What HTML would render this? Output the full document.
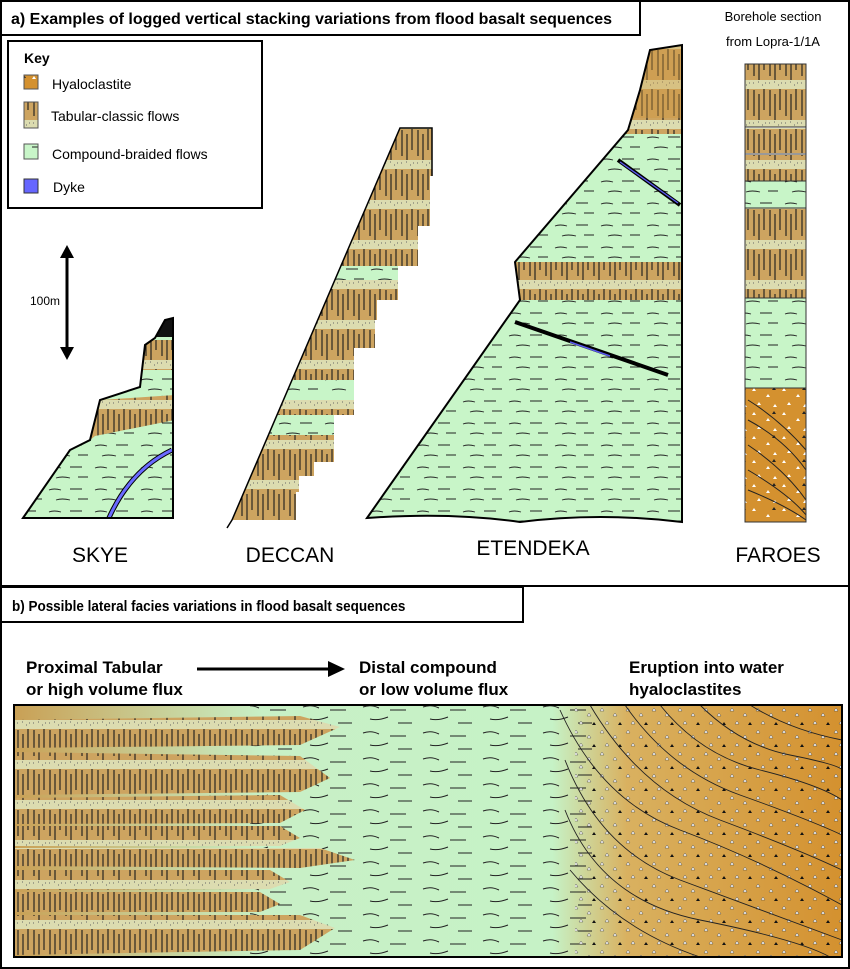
<!DOCTYPE html>
<html><head><meta charset="utf-8"><style>
html,body{margin:0;padding:0;background:#fff}
svg{display:block}
text{font-family:"Liberation Sans",Arial,sans-serif}
</style></head><body>
<svg width="850" height="969" viewBox="0 0 850 969" xmlns="http://www.w3.org/2000/svg">
<defs>
<pattern id="tab" width="16" height="40" patternUnits="userSpaceOnUse">
<rect width="16" height="40" fill="#cda460"/>
<rect width="16" height="9" fill="#dcdcb0"/>
<path d="M2 10V36M7 14V40M12 9V30" stroke="#1a1a1a" stroke-width="1.1"/>
<path d="M1 3h1M6 2h1M10 5h1M13 3h1" stroke="#666" stroke-width="1"/>
</pattern>
<pattern id="grn" width="46" height="22" patternUnits="userSpaceOnUse">
<rect width="46" height="22" fill="#c8f5c8"/>
<path d="M3 6q5-2 12 0M24 5h12M10 16q6-2 14 0M32 15h10" stroke="#222" stroke-width="0.9" fill="none"/>
</pattern>
<pattern id="hya" width="30" height="24" patternUnits="userSpaceOnUse">
<rect width="30" height="24" fill="#d4912f"/>
<path d="M4 4l2 3h-4zM18 10l2 3h-4zM9 18l2 3h-4zM25 20l2 3h-4z" fill="#fff"/>
<path d="M24 3l2 3h-4z" fill="#222"/>
</pattern>
<pattern id="dash" width="60" height="26" patternUnits="userSpaceOnUse">
<path d="M3 5q8-3 16 1M30 8h16M10 17q8 2 18-2M38 21h14" stroke="#222" stroke-width="1" fill="none"/>
</pattern>
<pattern id="tri" width="26" height="22" patternUnits="userSpaceOnUse">
<path d="M4 4l2 3h-4zM17 9l2 3h-4zM9 17l2 3h-4z" fill="#fff" stroke="#333" stroke-width="0.4"/>
<path d="M22 18l2 3h-4z" fill="#111"/>
</pattern>
<linearGradient id="bg" x1="0" x2="1" y1="0" y2="0">
<stop offset="0" stop-color="#c9a055"/>
<stop offset="0.3" stop-color="#c8f0c6"/>
<stop offset="0.65" stop-color="#c6f2c6"/>
<stop offset="0.74" stop-color="#d9b160"/>
<stop offset="1" stop-color="#d4912f"/>
</linearGradient>
<clipPath id="cs"><path d="M23 518L70 450L90 440L100 400L140 387L145 345L155 338L165 320L173 318V518Z"/></clipPath>
<clipPath id="cd"><path d="M232 520L400 128H432V520Z"/></clipPath>
<clipPath id="ce"><path d="M367 518L520 300L515 262L628 130L640 90L650 50L682 45V522Q600 512 520 522Q450 512 367 518Z"/></clipPath>
</defs>
<rect x="1" y="1" width="848" height="967" fill="none" stroke="#000" stroke-width="2"/>
<line x1="0" y1="586" x2="850" y2="586" stroke="#000" stroke-width="2"/>
<rect x="1" y="1" width="639" height="34" fill="#fff" stroke="#000" stroke-width="2"/>
<text x="11" y="24" font-size="16" font-weight="bold">a) Examples of logged vertical stacking variations from flood basalt sequences</text>
<rect x="8" y="41" width="254" height="167" fill="#fff" stroke="#000" stroke-width="2"/>
<text x="24" y="63" font-size="14" font-weight="bold">Key</text>
<rect x="24" y="75" width="14" height="14" fill="url(#hya)" stroke="#555"/>
<text x="52" y="89" font-size="14">Hyaloclastite</text>
<rect x="24" y="102" width="14" height="26" fill="url(#tab)" stroke="#555"/>
<text x="51" y="121" font-size="14">Tabular-classic flows</text>
<rect x="24" y="144" width="14" height="15" fill="url(#grn)" stroke="#555"/>
<text x="52" y="159" font-size="14">Compound-braided flows</text>
<rect x="24" y="179" width="14" height="14" fill="#6666ff" stroke="#333"/>
<text x="53" y="192" font-size="14">Dyke</text>
<line x1="67" y1="255" x2="67" y2="350" stroke="#000" stroke-width="3"/>
<path d="M60 258L67 245L74 258Z M60 347L67 360L74 347Z" fill="#000"/>
<text x="30" y="305" font-size="12">100m</text>
<g clip-path="url(#cs)">
<rect x="0" y="300" width="200" height="230" fill="url(#grn)"/>
<path d="M90 440L100 400L175 395V420L95 436Z" fill="url(#tab)"/>
<rect x="140" y="340" width="40" height="30" fill="url(#tab)"/>
<rect x="150" y="315" width="30" height="22" fill="#111"/>
<path d="M108 520Q130 470 172 450" stroke="#000" stroke-width="5" fill="none"/>
<path d="M108 520Q130 470 172 450" stroke="#6a6aff" stroke-width="3" fill="none"/>
</g>
<path d="M23 518L70 450L90 440L100 400L140 387L145 345L155 338L165 320L173 318V518Z" fill="none" stroke="#000" stroke-width="2"/>
<g clip-path="url(#cd)">
<rect x="220" y="128" width="212" height="48" fill="url(#tab)"/>
<rect x="220" y="176" width="210" height="50" fill="url(#tab)"/>
<rect x="220" y="226" width="198" height="40" fill="url(#tab)"/>
<rect x="220" y="266" width="178" height="14" fill="url(#grn)"/>
<rect x="220" y="280" width="178" height="20" fill="url(#tab)"/>
<rect x="220" y="300" width="157" height="20" fill="url(#tab)"/>
<rect x="220" y="320" width="155" height="28" fill="url(#tab)"/>
<rect x="220" y="348" width="134" height="32" fill="url(#tab)"/>
<rect x="220" y="380" width="134" height="20" fill="url(#grn)"/>
<rect x="220" y="400" width="134" height="15" fill="url(#tab)"/>
<rect x="220" y="415" width="114" height="20" fill="url(#grn)"/>
<rect x="220" y="435" width="114" height="27" fill="url(#tab)"/>
<rect x="220" y="462" width="94" height="14" fill="url(#tab)"/>
<rect x="220" y="476" width="79" height="16" fill="url(#tab)"/>
<rect x="220" y="492" width="76" height="30" fill="url(#tab)"/>
</g>
<path d="M227 528L232 520L400 128H432V176" fill="none" stroke="#000" stroke-width="1.5"/>
<g clip-path="url(#ce)">
<rect x="360" y="40" width="330" height="490" fill="url(#grn)"/>
<rect x="600" y="40" width="90" height="90" fill="#d09840"/>
<rect x="600" y="40" width="90" height="90" fill="url(#tab)" opacity="0.6"/>
<rect x="600" y="118" width="90" height="16" fill="url(#tab)"/>
<rect x="500" y="262" width="190" height="38" fill="url(#tab)"/>
</g>
<path d="M367 518L520 300L515 262L628 130L640 90L650 50L682 45V522Q600 512 520 522Q450 512 367 518Z" fill="none" stroke="#000" stroke-width="2"/>
<line x1="618" y1="160" x2="680" y2="205" stroke="#000" stroke-width="4"/>
<line x1="620" y1="162" x2="678" y2="203" stroke="#5a5aee" stroke-width="1.3"/>
<line x1="515" y1="322" x2="668" y2="375" stroke="#000" stroke-width="4"/>
<line x1="570" y1="342" x2="610" y2="356" stroke="#5a5aee" stroke-width="1.5"/>
<text x="773" y="21" font-size="13" text-anchor="middle">Borehole section</text>
<text x="773" y="46" font-size="13" text-anchor="middle">from Lopra-1/1A</text>
<rect x="745" y="64" width="61" height="63" fill="url(#tab)"/>
<rect x="745" y="128" width="61" height="25" fill="url(#tab)"/>
<rect x="745" y="155" width="61" height="26" fill="url(#tab)"/>
<rect x="745" y="181" width="61" height="27" fill="url(#grn)"/>
<rect x="745" y="208" width="61" height="90" fill="url(#tab)"/>
<rect x="745" y="298" width="61" height="90" fill="url(#grn)"/>
<rect x="745" y="388" width="61" height="134" fill="url(#hya)"/>
<path d="M748 400Q780 420 806 450M748 420Q785 440 806 470M748 445Q785 470 806 500M748 470Q790 495 806 515M748 490Q785 505 806 520" stroke="#222" fill="none"/>
<rect x="745" y="64" width="61" height="458" fill="none" stroke="#333"/>
<path d="M745 127H806M745 154H806M745 181H806M745 208H806M745 298H806M745 388H806" stroke="#333"/>
<text x="100" y="562" font-size="21" text-anchor="middle">SKYE</text>
<text x="290" y="562" font-size="21" text-anchor="middle">DECCAN</text>
<text x="533" y="555" font-size="21" text-anchor="middle">ETENDEKA</text>
<text x="778" y="562" font-size="21" text-anchor="middle">FAROES</text>
<rect x="1" y="587" width="522" height="35" fill="#fff" stroke="#000" stroke-width="2"/>
<text x="12" y="611" font-size="15" font-weight="bold" transform="translate(12 611) scale(0.9 1) translate(-12 -611)">b) Possible lateral facies variations in flood basalt sequences</text>
<g font-size="17" font-weight="bold">
<text x="26" y="673">Proximal Tabular</text>
<text x="26" y="695">or high volume flux</text>
<text x="359" y="673">Distal compound</text>
<text x="359" y="695">or low volume flux</text>
<text x="629" y="673">Eruption into water</text>
<text x="629" y="695">hyaloclastites</text>
</g>
<line x1="197" y1="669" x2="330" y2="669" stroke="#000" stroke-width="3"/>
<path d="M328 661L345 669L328 677Z" fill="#000"/>
<rect x="14" y="705" width="828" height="252" fill="url(#bg)"/>
<rect x="250" y="705" width="350" height="252" fill="url(#dash)"/>
<g fill="url(#tri)"><rect x="575" y="705" width="267" height="252"/></g>
<g stroke="#222" fill="none" stroke-width="0.9">
<path d="M560 710Q600 800 680 830T842 905"/><path d="M590 705Q640 790 720 820T842 870"/>
<path d="M625 705Q670 770 740 795T842 835"/><path d="M660 705Q700 755 760 770T842 800"/>
<path d="M700 705Q740 745 790 755T842 770"/><path d="M750 705Q790 730 842 740"/>
<path d="M565 760Q600 850 680 880T842 940"/><path d="M565 810Q600 900 700 920T830 957"/>
<path d="M570 870Q620 930 700 957"/>
</g>
<g>
<path d="M14 720L300 716L340 727L300 745L14 748Z" fill="url(#tab)"/>
<path d="M14 752L300 756L330 778L300 792L14 795Z" fill="url(#tab)"/>
<path d="M14 798L280 795L305 810L280 823L14 824Z" fill="url(#tab)"/>
<path d="M14 826L280 826L300 838L280 846L14 846Z" fill="url(#tab)"/>
<path d="M14 848L320 848L355 860L300 868L14 866Z" fill="url(#tab)"/>
<path d="M14 870L270 870L290 882L270 889L14 890Z" fill="url(#tab)"/>
<path d="M14 892L260 892L280 904L260 912L14 912Z" fill="url(#tab)"/>
<path d="M14 915L300 915L335 928L300 950L14 955Z" fill="url(#tab)"/>
</g>
<rect x="14" y="705" width="828" height="252" fill="none" stroke="#000" stroke-width="2"/>
</svg>
</body></html>
